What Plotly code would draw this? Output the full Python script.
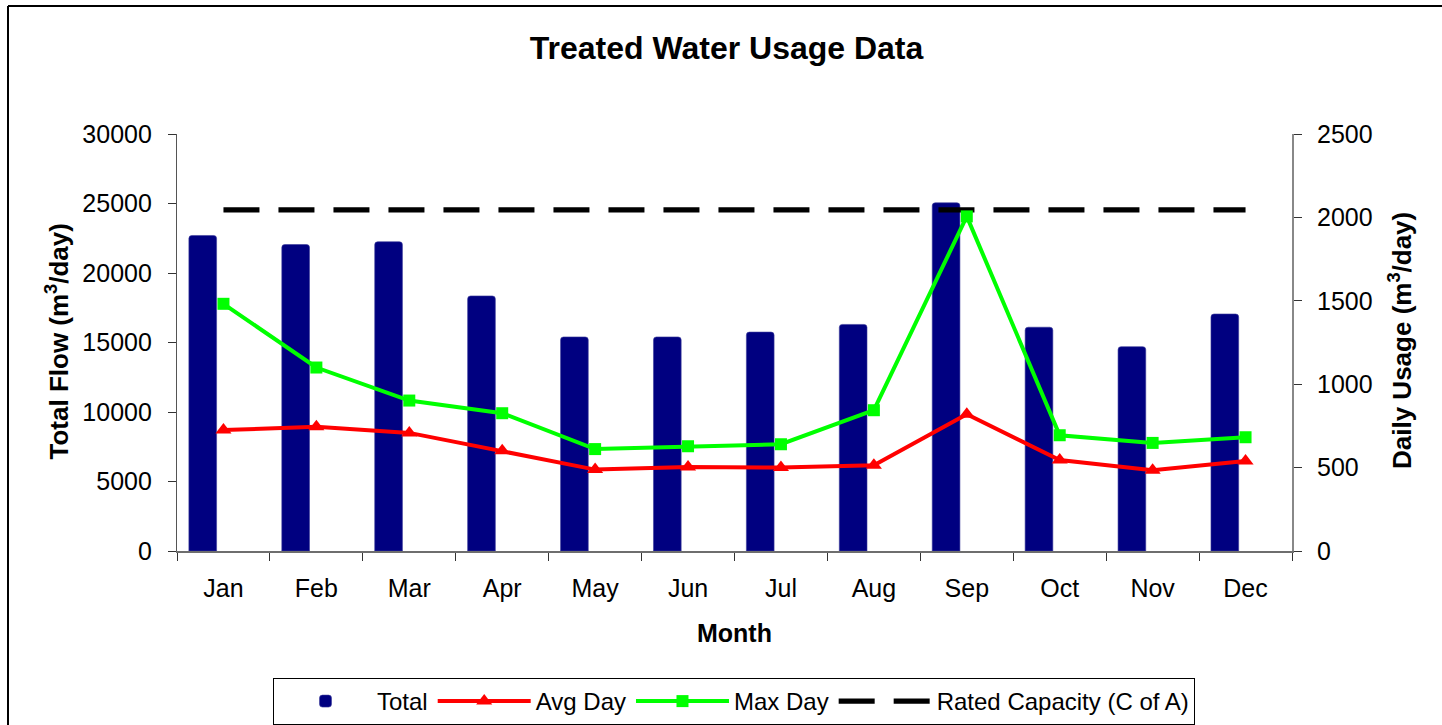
import plotly.graph_objects as go

months = ["Jan", "Feb", "Mar", "Apr", "May", "Jun", "Jul", "Aug", "Sep", "Oct", "Nov", "Dec"]
total_flow = [22700, 22050, 22250, 18350, 15400, 15400, 15750, 16300, 25050, 16100, 14700, 17050]
avg_day = [725, 745, 708, 601, 488, 504, 500, 514, 820, 546, 484, 540]
max_day = [1482, 1100, 902, 826, 611, 628, 640, 844, 2006, 694, 648, 682]
rated_capacity = [2045, 2045, 2045, 2045, 2045, 2045, 2045, 2045, 2045, 2045, 2045, 2045]
left_ticks = [0, 5000, 10000, 15000, 20000, 25000, 30000]
right_ticks = [0, 500, 1000, 1500, 2000, 2500]

FONT = "Liberation Sans, Arial, sans-serif"
W, H = 1442, 725
L, R, T, B = 177, 150, 134, 174
PW, PH = W - L - R, H - T - B


def px(x):
    return (x - L) / PW


def py(y):
    return (H - B - y) / PH


fig = go.Figure()

fig.add_trace(go.Bar(
    x=months, y=total_flow, name="Total", yaxis="y",
    marker=dict(color="#000080", line=dict(color="#3a3a9a", width=0.6), cornerradius=3),
    offset=-0.372, width=0.298, legendrank=1,
))
fig.add_trace(go.Scatter(
    x=months, y=rated_capacity, name="Rated Capacity (C of A)", yaxis="y2",
    mode="lines", line=dict(color="black", width=5.3, dash="36px,19px"), legendrank=4,
))
fig.add_trace(go.Scatter(
    x=months, y=avg_day, name="Avg Day", yaxis="y2",
    mode="lines+markers", line=dict(color="#FF0000", width=4),
    marker=dict(symbol="triangle-up", size=14, color="#FF0000"), legendrank=2,
))
fig.add_trace(go.Scatter(
    x=months, y=max_day, name="Max Day", yaxis="y2",
    mode="lines+markers", line=dict(color="#00FF00", width=4),
    marker=dict(symbol="square", size=12, color="#00FF00"), legendrank=3,
))

axis_font = dict(family=FONT, size=25, color="black")

fig.update_layout(
    width=W, height=H,
    margin=dict(l=L, r=R, t=T, b=B, pad=0, autoexpand=False),
    paper_bgcolor="white", plot_bgcolor="white",
    font=dict(family=FONT, color="black"),
    showlegend=True,
    title=dict(text="<b>Treated Water Usage Data</b>", font=dict(family=FONT, size=32, color="black"),
               x=726.5 / W, xref="container", xanchor="center",
               y=1 - 48 / H, yref="container", yanchor="middle"),
    xaxis=dict(type="category", categoryorder="array", categoryarray=months,
               range=[-0.5, 11.5], showline=True, linecolor="#6e6e6e", linewidth=1.5,
               ticks="outside", ticklen=8, tickcolor="#333", tickwidth=1.2,
               tickson="boundaries", showgrid=False, zeroline=False,
               tickfont=axis_font, ticklabelstandoff=14, fixedrange=True),
    xaxis2=dict(overlaying="x", anchor="y", range=[-0.5, 11.5],
                tickmode="array", tickvals=[i - 0.5 for i in range(13)],
                ticks="inside", ticklen=8, tickcolor="#333", tickwidth=1.2,
                showticklabels=False, showgrid=False, zeroline=False, showline=False),
    yaxis=dict(range=[0, 30000], tickvals=left_ticks, tickformat="d", showline=True,
               linecolor="#555", linewidth=1.2,
               ticks="outside", ticklen=8, tickcolor="#333", tickwidth=1.2,
               showgrid=False, zeroline=False, tickfont=axis_font, ticklabelstandoff=11),
    yaxis3=dict(overlaying="y", anchor="x", side="left", range=[0, 30000], tickvals=left_ticks,
                ticks="inside", ticklen=8, tickcolor="#333", tickwidth=1.2,
                showticklabels=False, showgrid=False, zeroline=False, showline=False),
    yaxis2=dict(overlaying="y", side="right", anchor="x", range=[0, 2500], tickvals=right_ticks,
                tickformat="d", showline=True, linecolor="#888", linewidth=2,
                ticks="outside", ticklen=8, tickcolor="#333", tickwidth=1.2,
                showgrid=False, zeroline=False, tickfont=axis_font, ticklabelstandoff=10),
    yaxis4=dict(overlaying="y", side="right", anchor="x", range=[0, 2500], tickvals=right_ticks,
                ticks="inside", ticklen=8, tickcolor="#333", tickwidth=1.2,
                showticklabels=False, showgrid=False, zeroline=False, showline=False),
    legend=dict(orientation="h", x=px(734), xanchor="center", y=py(678), yanchor="top",
                bordercolor="black", borderwidth=1, bgcolor="white",
                font=dict(family=FONT, size=24, color="black"),
                itemwidth=93, tracegroupgap=0, traceorder="normal"),
    annotations=[
        dict(text="<b>Total Flow (m<sup>3</sup>/day)</b>", xref="paper", yref="paper",
             x=px(58), y=py(341.5), textangle=-90, showarrow=False,
             xanchor="center", yanchor="middle", font=dict(family=FONT, size=26, color="black")),
        dict(text="<b>Daily Usage (m<sup>3</sup>/day)</b>", xref="paper", yref="paper",
             x=px(1400), y=py(341), textangle=-90, showarrow=False,
             xanchor="center", yanchor="middle", font=dict(family=FONT, size=26, color="black")),
        dict(text="<b>Month</b>", xref="paper", yref="paper",
             x=px(734), y=py(633), showarrow=False,
             xanchor="center", yanchor="middle", font=dict(family=FONT, size=25, color="black")),
    ],
    shapes=[
        dict(type="line", xref="paper", yref="paper", x0=px(8), x1=px(8), y0=py(6), y1=py(H + 5),
             line=dict(color="black", width=2)),
        dict(type="line", xref="paper", yref="paper", x0=px(8), x1=px(W + 5), y0=py(6), y1=py(6),
             line=dict(color="black", width=2)),
    ],
)

fig.write_html(
    "out.html",
    config={"displayModeBar": False},
    post_script="document.body.style.margin='0';document.body.style.padding='0';"
                "document.body.style.overflow='hidden';",
)
